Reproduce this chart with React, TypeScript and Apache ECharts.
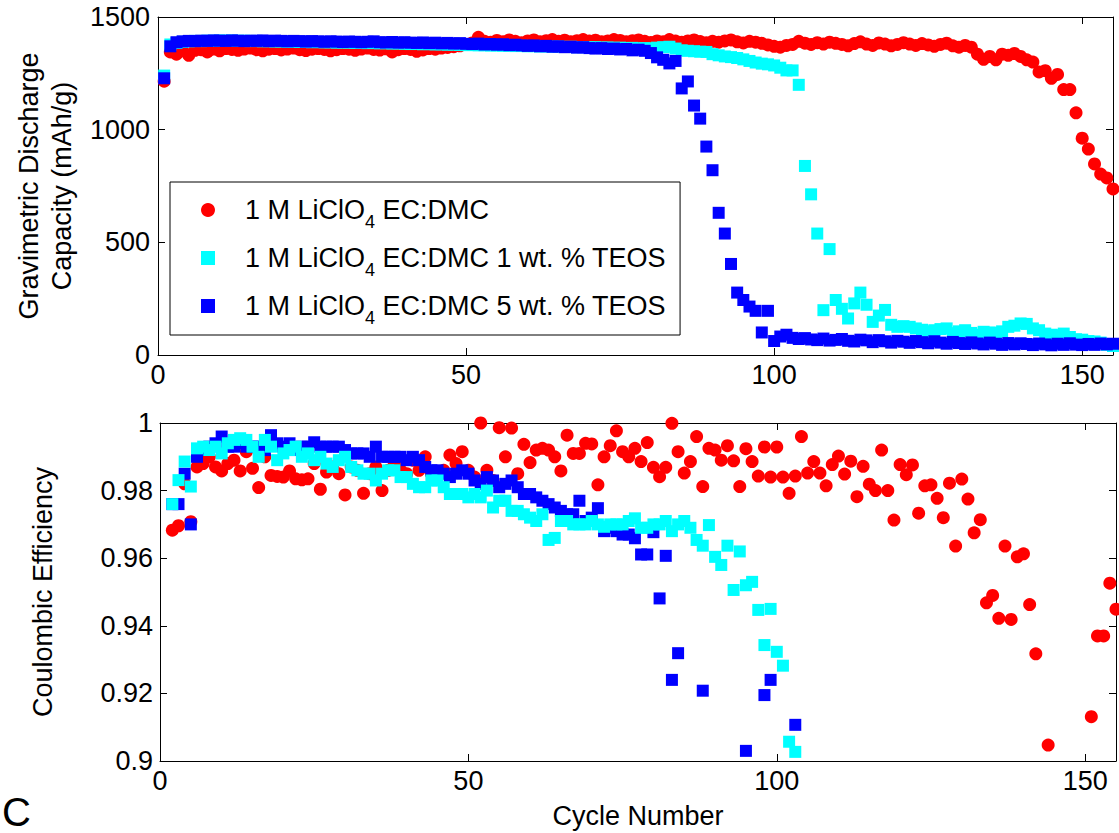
import React, { useEffect, useRef } from "react";
import * as echarts from "echarts";

const FONT = "'Liberation Sans', Arial, Helvetica, sans-serif";

const seriesNames = [
  "1 M LiClO4 EC:DMC",
  "1 M LiClO4 EC:DMC 1 wt. % TEOS",
  "1 M LiClO4 EC:DMC 5 wt. % TEOS",
];
const seriesColors = ["#ff0000", "#00ffff", "#0000ff"];

const xTicks = [0, 50, 100, 150];

// Top panel: discharge capacity (mAh/g), cycles 1..155
const capRed = [
  1215, 1345, 1335, 1350, 1330, 1352, 1355, 1345, 1358, 1350,
  1360, 1356, 1352, 1358, 1362, 1355, 1350, 1357, 1360, 1354,
  1358, 1362, 1355, 1351, 1357, 1360, 1356, 1350, 1355, 1360,
  1357, 1352, 1358, 1362, 1356, 1353, 1359, 1345, 1355, 1360,
  1356, 1348, 1354, 1360, 1357, 1362, 1365, 1368, 1372, 1378,
  1385, 1410, 1392, 1388, 1396, 1390, 1398, 1392, 1386, 1394,
  1398, 1390, 1395, 1400, 1392, 1397, 1390, 1395, 1400, 1393,
  1397, 1390, 1394, 1400, 1396, 1390, 1395, 1398, 1392, 1387,
  1394, 1390, 1400, 1393, 1388, 1394, 1398, 1391, 1386, 1392,
  1388, 1394, 1398, 1390, 1385, 1392, 1388, 1383, 1376, 1370,
  1366, 1374, 1378, 1392, 1384, 1378, 1386, 1380, 1388, 1383,
  1378, 1372, 1382, 1390, 1380, 1374, 1385, 1380, 1372, 1378,
  1386, 1380, 1374, 1382, 1376, 1370, 1378, 1384, 1372, 1366,
  1374, 1366, 1335, 1312, 1325, 1310, 1335, 1330, 1338, 1325,
  1310, 1300, 1256, 1262, 1228, 1245, 1178, 1178, 1075, 962,
  914, 848, 803, 786, 737,
];
const capCyan = [
  1240, 1378, 1385, 1390, 1392, 1394, 1393, 1395, 1394, 1396,
  1395, 1396, 1394, 1395, 1393, 1394, 1392, 1393, 1391, 1392,
  1390, 1391, 1389, 1390, 1388, 1389, 1387, 1388, 1386, 1387,
  1386, 1385, 1386, 1384, 1385, 1383, 1384, 1382, 1383, 1381,
  1380, 1381, 1379, 1380, 1378, 1379, 1377, 1378, 1376, 1375,
  1376, 1374, 1375, 1373, 1374, 1372, 1373, 1371, 1372, 1370,
  1371, 1369, 1370, 1368, 1369, 1367, 1368, 1366, 1367, 1365,
  1366, 1364, 1365, 1363, 1364, 1362, 1363, 1361, 1362, 1360,
  1364, 1366, 1368, 1360, 1352, 1350, 1348, 1346, 1345, 1335,
  1330, 1325, 1322, 1318, 1312, 1305, 1298, 1293, 1290, 1285,
  1275, 1263, 1263, 1199, 839, 713, 539, 199, 470, 244,
  205, 162, 229, 277, 223, 147, 175, 200, 134, 125,
  128, 125, 118, 112, 105, 110, 115, 118, 97, 105,
  110, 98, 90, 103, 100, 98, 105, 125, 130, 140,
  138, 118, 110, 95, 90, 88, 95, 80, 70, 68,
  62, 60, 55, 45, 40,
];
const capBlue = [
  1228, 1370, 1388, 1392, 1394, 1393, 1395, 1394, 1396, 1395,
  1394, 1396, 1395, 1393, 1395, 1394, 1396, 1393, 1395, 1394,
  1392, 1394, 1393, 1391, 1393, 1392, 1390, 1392, 1391, 1389,
  1391, 1390, 1388, 1390, 1392, 1388, 1387, 1389, 1386, 1388,
  1386, 1385, 1387, 1384, 1386, 1383, 1385, 1382, 1384, 1381,
  1380, 1382, 1378, 1380, 1377, 1379, 1375, 1377, 1374, 1372,
  1374, 1370, 1372, 1368, 1370, 1366, 1368, 1364, 1366, 1362,
  1360, 1362, 1358, 1360, 1356, 1358, 1352, 1355, 1350, 1340,
  1321, 1310, 1294, 1305, 1183, 1214, 1107, 1049, 925, 820,
  631, 539, 404, 277, 244, 215, 196, 100, 196, 62,
  82, 90, 76, 71, 75, 69, 66, 73, 64, 67,
  71, 63, 60, 68, 65, 57, 66, 61, 55, 63,
  59, 54, 62, 57, 52, 61, 55, 50, 58, 53,
  49, 56, 51, 47, 55, 50, 45, 53, 47, 52,
  49, 44, 51, 47, 43, 50, 45, 52, 46, 44,
  49, 45, 51, 47, 50,
];

// Bottom panel: coulombic efficiency, cycles 2..155 (null = not visible)
const ceRed = [
  0.9683, 0.9696, 0.982, 0.9708, 0.987, 0.988, 0.99, 0.987, 0.9858,
  0.988, 0.989, 0.9858, 0.9915, 0.9866, 0.9809, 0.99, 0.9845, 0.9842, 0.984,
  0.9858, 0.9835, 0.9832, 0.9835, 0.988, 0.9804, 0.9855, 0.987, 0.985, 0.9787,
  0.987, 0.986, 0.9792, 0.985, 0.987, 0.98, 0.986, 0.988, 0.986, 0.985,
  0.989, 0.986, 0.99, 0.985, 0.984, 0.986, 0.9905, 0.988, 0.9915, 0.986,
  0.984, 1.0, 0.986, 0.983, 0.9986, 0.99, 0.9985, 0.985, 0.9937, 0.9883,
  0.992, 0.9925, 0.992, 0.99, 0.9858, 0.9964, 0.991, 0.991, 0.994, 0.9938,
  0.9817, 0.99, 0.9933, 0.9977, 0.9915, 0.99, 0.9925, 0.9886, 0.9942, 0.9869,
  0.9841, 0.9869, 0.9999, 0.9915, 0.9852, 0.9886, 0.996, 0.9812, 0.9925, 0.992,
  0.989, 0.9933, 0.9888, 0.9812, 0.9924, 0.9886, 0.9843, 0.9929, 0.984, 0.9929,
  0.984, 0.9792, 0.9843, 0.996, 0.9852, 0.9886, 0.9852, 0.9814, 0.9877, 0.9902,
  0.9849, 0.9887, 0.9782, 0.9872, 0.9819, 0.98, 0.992, 0.98, 0.9713, 0.9877,
  0.9847, 0.9876, 0.9733, 0.9814, 0.9817, 0.9777, 0.972, 0.9822, 0.9636, 0.9834,
  0.9775, 0.9675, 0.9714, 0.9468, 0.949, 0.9422, 0.9636, 0.9419, 0.9604, 0.9613,
  0.9463, 0.9317, null, 0.9047, null, null, null, null, null, null,
  0.9131, 0.937, 0.937, 0.9526, 0.9449,
];
const ceCyan = [
  0.976, 0.9831, 0.9886, 0.9812, 0.9925, 0.993, 0.992, 0.993, 0.991,
  0.994, 0.995, 0.9955, 0.995, 0.993, 0.99, 0.995, 0.993, 0.989, 0.991,
  0.992, 0.993, 0.99, 0.991, 0.989, 0.99, 0.988, 0.987, 0.989, 0.99,
  0.987, 0.986, 0.985, 0.985, 0.983, 0.985, 0.986, 0.986, 0.984, 0.984,
  0.982, 0.981, 0.981, 0.983, 0.983, 0.981, 0.979, 0.979, 0.979, 0.978,
  0.979, 0.978, 0.98, 0.975, 0.977, 0.977, 0.974, 0.974, 0.973, 0.972,
  0.971, 0.973, 0.9654, 0.966, 0.971, 0.971, 0.97, 0.97, 0.97, 0.971,
  0.97, 0.9693, 0.97, 0.97, 0.97, 0.971, 0.9718, 0.969, 0.969, 0.97,
  0.97, 0.971, 0.968, 0.97, 0.971, 0.969, 0.9654, 0.9637, 0.9698, 0.9604,
  0.958, 0.9637, 0.9506, 0.962, 0.952, 0.953, 0.9447, 0.9343, 0.945, 0.9323,
  0.9282, 0.9057, 0.9027,
];
const ceBlue = [
  0.976, 0.976, 0.985, 0.97, 0.99, 0.992, 0.993, 0.994, 0.996,
  0.993, 0.993, 0.994, 0.993, 0.993, 0.993, 0.992, 0.9964, 0.994, 0.993,
  0.994, 0.992, 0.993, 0.993, 0.9943, 0.993, 0.993, 0.993, 0.993, 0.992,
  0.991, 0.991, 0.991, 0.99, 0.993, 0.99, 0.99, 0.99, 0.99, 0.989,
  0.99, 0.989, 0.987, 0.986, 0.986, 0.985, 0.984, 0.985, 0.986, 0.985,
  0.983, 0.982, 0.984, 0.983, 0.981, 0.982, 0.983, 0.981, 0.979, 0.979,
  0.978, 0.977, 0.976, 0.975, 0.974, 0.973, 0.973, 0.977, 0.971, 0.972,
  0.9748, 0.968, 0.969, 0.968, 0.967, 0.967, 0.9659, 0.9611, 0.9611, 0.9677,
  0.9481, 0.9607, 0.924, 0.9319, null, null, null, 0.9208, null, null,
  null, null, null, null, 0.903, null, null, 0.9195, 0.924, null,
  null, null, 0.9107,
];

const toPoints = (arr: (number | null)[], firstCycle: number) =>
  arr
    .map((v, i) => [i + firstCycle, v])
    .filter((p) => p[1] !== null);

function legendLabel(name: string) {
  const parts = name.split("LiClO4");
  return `{g| }{a|${parts[0]}LiClO}{s|4}{a|${parts[1]}}`;
}

export default function App() {
  const ref = useRef<HTMLDivElement>(null);
  useEffect(() => {
    if (!ref.current) return;
    const chart = echarts.init(ref.current, undefined, { renderer: "svg" });
    const axisLine = { show: true, onZero: false, lineStyle: { color: "#000", width: 1 } };
    const tick = { show: true, inside: true, length: 7, lineStyle: { color: "#000" } };
    const labelStyle = { color: "#000", fontSize: 27, fontFamily: FONT };
    const xFmt = (v: number) => (xTicks.indexOf(v) >= 0 ? String(v) : "");
    const yFmt = (v: number) => String(Math.round(v * 1000) / 1000);
    const baseX = { type: "value", min: 0, max: 155, interval: 50, splitLine: { show: false }, axisLine, axisTick: tick };
    const mirror = { axisLabel: { show: false } };

    const option: any = {
      animation: false,
      backgroundColor: "#fff",
      grid: [
        { left: 158, top: 17, width: 955, height: 338 },
        { left: 160, top: 423, width: 958, height: 338 },
      ],
      xAxis: [
        { ...baseX, gridIndex: 0, position: "bottom", axisLabel: { ...labelStyle, margin: 6, formatter: xFmt } },
        { ...baseX, gridIndex: 0, position: "top", ...mirror },
        {
          ...baseX, gridIndex: 1, position: "bottom",
          axisLabel: { ...labelStyle, margin: 6, formatter: xFmt },
          name: "Cycle Number", nameLocation: "middle", nameGap: 41,
          nameTextStyle: { color: "#000", fontSize: 27, fontFamily: FONT },
        },
        { ...baseX, gridIndex: 1, position: "top", ...mirror },
      ],
      yAxis: [
        {
          type: "value", gridIndex: 0, position: "left", min: 0, max: 1500, interval: 500,
          splitLine: { show: false }, axisLine, axisTick: tick,
          axisLabel: { ...labelStyle, margin: 8, formatter: yFmt },
          name: "Gravimetric Discharge\nCapacity (mAh/g)", nameLocation: "middle", nameGap: 80,
          nameTextStyle: { color: "#000", fontSize: 27, lineHeight: 33, fontFamily: FONT },
        },
        {
          type: "value", gridIndex: 0, position: "right", min: 0, max: 1500, interval: 500,
          splitLine: { show: false }, axisLine, axisTick: tick, axisLabel: { show: false },
        },
        {
          type: "value", gridIndex: 1, position: "left", min: 0.9, max: 1.0, interval: 0.02,
          splitLine: { show: false }, axisLine, axisTick: tick,
          axisLabel: { ...labelStyle, margin: 7, formatter: yFmt },
          name: "Coulombic Efficiency", nameLocation: "middle", nameGap: 104,
          nameTextStyle: { color: "#000", fontSize: 27, fontFamily: FONT },
        },
        {
          type: "value", gridIndex: 1, position: "right", min: 0.9, max: 1.0, interval: 0.02,
          splitLine: { show: false }, axisLine, axisTick: tick, axisLabel: { show: false },
        },
      ],
      legend: {
        data: seriesNames,
        orient: "vertical",
        left: 170,
        top: 182,
        padding: [7, 14, 8, 31],
        itemGap: 6,
        itemWidth: 14,
        itemHeight: 14,
        borderColor: "#000",
        borderWidth: 1,
        backgroundColor: "#fff",
        formatter: legendLabel,
        itemStyle: { opacity: 1 },
        textStyle: {
          color: "#000",
          fontFamily: FONT,
          fontSize: 27,
          rich: {
            g: { width: 25, fontSize: 27, lineHeight: 42, fontFamily: FONT },
            a: { fontSize: 27, lineHeight: 42, color: "#000", fontFamily: FONT },
            s: { fontSize: 18, lineHeight: 18, padding: [24, 0, 0, 0], verticalAlign: "top", color: "#000", fontFamily: FONT },
          },
        },
      },
      graphic: [
        { type: "text", left: 2, top: 792, style: { text: "C", fontSize: 40, fill: "#000", fontFamily: FONT } },
      ],
      series: [
        { type: "scatter", name: seriesNames[0], xAxisIndex: 0, yAxisIndex: 0, symbol: "circle", symbolSize: 13, itemStyle: { color: seriesColors[0], opacity: 1 }, data: toPoints(capRed, 1), z: 2 },
        { type: "scatter", name: seriesNames[1], xAxisIndex: 0, yAxisIndex: 0, symbol: "rect", symbolSize: 12, itemStyle: { color: seriesColors[1], opacity: 1 }, data: toPoints(capCyan, 1), z: 3 },
        { type: "scatter", name: seriesNames[2], xAxisIndex: 0, yAxisIndex: 0, symbol: "rect", symbolSize: 12, itemStyle: { color: seriesColors[2], opacity: 1 }, data: toPoints(capBlue, 1), z: 4 },
        { type: "scatter", name: seriesNames[0], xAxisIndex: 2, yAxisIndex: 2, symbol: "circle", symbolSize: 13, itemStyle: { color: seriesColors[0], opacity: 1 }, data: toPoints(ceRed, 2), z: 2 },
        { type: "scatter", name: seriesNames[2], xAxisIndex: 2, yAxisIndex: 2, symbol: "rect", symbolSize: 12, itemStyle: { color: seriesColors[2], opacity: 1 }, data: toPoints(ceBlue, 2), z: 3 },
        { type: "scatter", name: seriesNames[1], xAxisIndex: 2, yAxisIndex: 2, symbol: "rect", symbolSize: 12, itemStyle: { color: seriesColors[1], opacity: 1 }, data: toPoints(ceCyan, 2), z: 4 },
      ],
    };
    chart.setOption(option);
    return () => chart.dispose();
  }, []);
  return (
    <div
      ref={ref}
      style={{ position: "fixed", left: 0, top: 0, width: 1119, height: 833, background: "#fff" }}
    />
  );
}
